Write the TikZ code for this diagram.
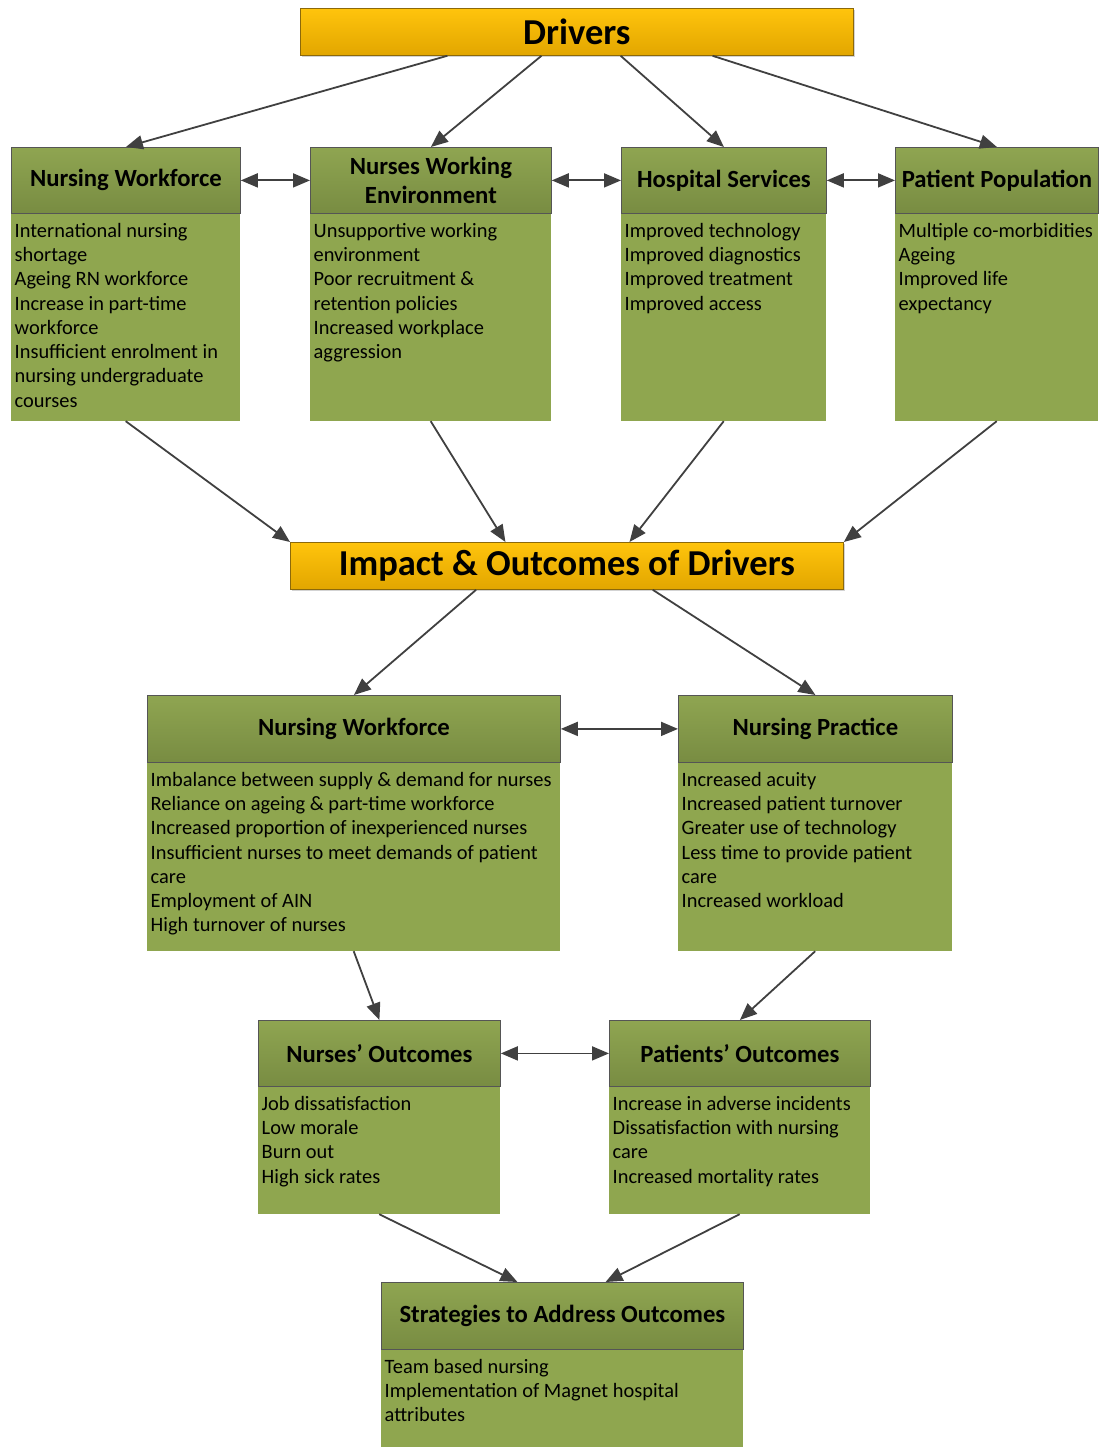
\documentclass[tikz,border=0pt]{standalone}
\usepackage{fontspec}
\setmainfont{Carlito}
\usetikzlibrary{calc,arrows.meta,shadows}

\definecolor{goldtop}{RGB}{255,196,12}
\definecolor{goldbot}{RGB}{226,166,0}
\definecolor{goldline}{RGB}{140,105,10}
\definecolor{hdtop}{RGB}{143,165,81}
\definecolor{hdbot}{RGB}{120,140,66}
\definecolor{bodyc}{RGB}{143,166,79}
\definecolor{edgec}{RGB}{85,85,85}
\definecolor{arrc}{RGB}{64,64,64}

\newcommand{\bodytxt}[3]{\parbox[t][#2pt][t]{#1pt}{\vspace*{5pt}\raggedright #3}}

\tikzset{
  titlebox/.style={draw=goldline, line width=0.8pt, top color=goldtop, bottom color=goldbot,
    anchor=north west, inner sep=0pt, font=\fontsize{36.5}{40}\selectfont\bfseries,
    drop shadow={shadow xshift=2pt, shadow yshift=-2pt, opacity=0.35}},
  header/.style={draw=edgec, line width=0.8pt, top color=hdtop, bottom color=hdbot,
    anchor=north west, inner sep=0pt, align=center,
    font=\fontsize{24.7}{29}\selectfont\bfseries},
  body/.style={fill=bodyc, anchor=north west, inner xsep=3.5pt, inner ysep=4pt,
    font=\fontsize{20.4}{24.3}\selectfont},
  tip/.tip={Triangle[length=17pt,width=14pt]},
  flow/.style={draw=arrc, line width=1.8pt, -tip},
  twoway/.style={draw=arrc, line width=1.8pt, tip-tip}
}

\begin{document}
\begin{tikzpicture}[x=1pt,y=-1pt]
    \useasboundingbox (0,0) rectangle (1098,1447);

    % drivers
    \node[titlebox, minimum width=553pt, minimum height=47pt] (drv) at (300,8) {Drivers};

    \node[header, minimum width=229pt, minimum height=66pt] (nw1) at (11,147) {Nursing Workforce};
    \node[header, minimum width=241pt, minimum height=66pt] (nwe) at (310,147) {Nurses Working\\Environment};
    \node[header, minimum width=205pt, minimum height=66pt] (hs) at (621,147) {Hospital Services};
    \node[header, minimum width=203pt, minimum height=66pt] (pp) at (895,147) {Patient Population};

    \node[body] (nw1b) at (nw1.south west) {\bodytxt{222}{199}{International nursing\\shortage\\Ageing RN workforce\\Increase in part-time\\workforce\\Insufficient enrolment in\\nursing undergraduate\\courses}};
    \node[body] (nweb) at (nwe.south west) {\bodytxt{234}{199}{Unsupportive working\\environment\\Poor recruitment \&\\retention policies\\Increased workplace\\aggression}};
    \node[body] (hsb) at (hs.south west) {\bodytxt{198}{199}{Improved technology\\Improved diagnostics\\Improved treatment\\Improved access}};
    \node[body] (ppb) at (pp.south west) {\bodytxt{196}{199}{Multiple co-morbidities\\Ageing\\Improved life\\expectancy}};

    % impact
    \node[titlebox, minimum width=553pt, minimum height=47pt] (imp) at (290,542) {Impact \& Outcomes of Drivers};

    \node[header, minimum width=413pt, minimum height=67pt] (nw2) at (147,695) {Nursing Workforce};
    \node[header, minimum width=274pt, minimum height=67pt] (np) at (678,695) {Nursing Practice};

    \node[body] (nw2b) at (nw2.south west) {\bodytxt{406}{180}{Imbalance between supply \& demand for nurses\\Reliance on ageing \& part-time workforce\\Increased proportion of inexperienced nurses\\Insufficient nurses to meet demands of patient\\care\\Employment of AIN\\High turnover of nurses}};
    \node[body] (npb) at (np.south west) {\bodytxt{267}{180}{Increased acuity\\Increased patient turnover\\Greater use of technology\\Less time to provide patient\\care\\Increased workload}};

    % outcomes
    \node[header, minimum width=242pt, minimum height=66pt] (no) at (258,1020) {Nurses’ Outcomes};
    \node[header, minimum width=261pt, minimum height=66pt] (po) at (609,1020) {Patients’ Outcomes};

    \node[body] (nob) at (no.south west) {\bodytxt{235}{119}{Job dissatisfaction\\Low morale\\Burn out\\High sick rates}};
    \node[body] (pob) at (po.south west) {\bodytxt{254}{119}{Increase in adverse incidents\\Dissatisfaction with nursing\\care\\Increased mortality rates}};

    \node[header, minimum width=362pt, minimum height=67pt] (st) at (381,1282) {Strategies to Address Outcomes};
    \node[body] (stb) at (st.south west) {\bodytxt{355}{89}{Team based nursing\\Implementation of Magnet hospital\\attributes}};

    % arrows
    \draw[flow] ($(drv.south west)!0.266!(drv.south east)$) -- (nw1.north);
    \draw[flow] ($(drv.south west)!0.436!(drv.south east)$) -- (nwe.north);
    \draw[flow] ($(drv.south west)!0.579!(drv.south east)$) -- (hs.north);
    \draw[flow] ($(drv.south west)!0.745!(drv.south east)$) -- (pp.north);

    \draw[twoway] (nw1.east) -- (nwe.west |- nw1.east);
    \draw[twoway] (nwe.east |- hs.west) -- (hs.west);
    \draw[twoway] (hs.east) -- (pp.west);

    \draw[flow] (nw1b.south) -- (imp.north west);
    \draw[flow] (nweb.south) -- ($(imp.north west)!0.389!(imp.north east)$);
    \draw[flow] (hsb.south) -- ($(imp.north west)!0.613!(imp.north east)$);
    \draw[flow] (ppb.south) -- (imp.north east);

    \draw[flow] ($(imp.south west)!0.336!(imp.south east)$) -- (nw2.north);
    \draw[flow] ($(imp.south west)!0.655!(imp.south east)$) -- (np.north);
    \draw[twoway] (nw2.east) -- (np.west);

    \draw[flow] (nw2b.south) -- (no.north);
    \draw[flow] (npb.south) -- (po.north);
    \draw[twoway] (no.east) -- (po.west);

    \draw[flow] (nob.south) -- ($(st.north west)!0.376!(st.north east)$);
    \draw[flow] (pob.south) -- ($(st.north west)!0.619!(st.north east)$);
\end{tikzpicture}
\end{document}
